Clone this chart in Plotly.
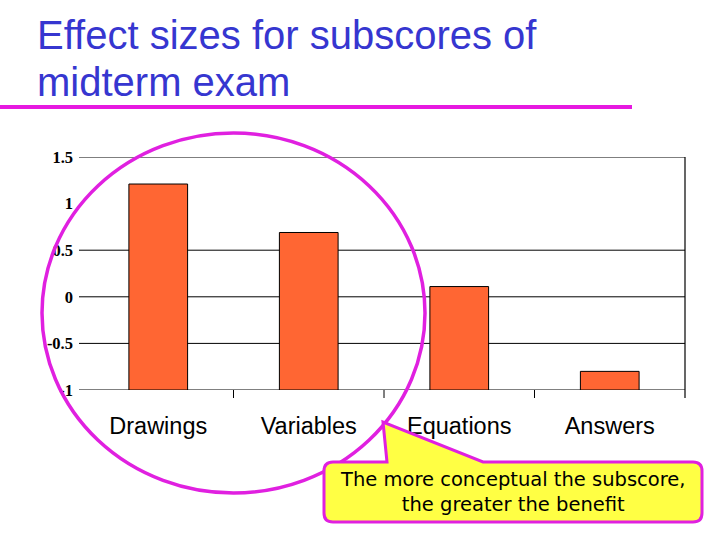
import plotly.graph_objects as go

# ---- data ----
categories = ["Drawings", "Variables", "Equations", "Answers"]
effect_sizes = [1.21, 0.69, 0.11, -0.80]
bar_base = -1.0
y_tick_values = [1.5, 1, 0.5, 0, -0.5, -1]
y_tick_labels = ["1.5", "1", "0.5", "0", "-0.5", "-1"]
gridline_values = [1.5, 0.5, 0, -0.5]
title_lines = ["Effect sizes for subscores of", "midterm exam"]
callout_lines = ["The more conceptual the subscore,", "the greater the benefit"]

W, H = 720, 540
L, R, T, B = 83, 35, 157, 150
PW, PH = W - L - R, H - T - B


def px(x):
    return (x - L) / PW


def py(y):
    return (H - B - y) / PH


fig = go.Figure()
fig.add_trace(go.Bar(
    x=categories,
    y=[v - bar_base for v in effect_sizes],
    base=bar_base,
    marker=dict(color="#ff6633", line=dict(color="black", width=1)),
    hoverinfo="skip",
))

shapes = []
# gridlines
for g in gridline_values + [bar_base]:
    shapes.append(dict(type="line", xref="paper", yref="y", x0=px(79), x1=1, y0=g, y1=g,
                       line=dict(color="black", width=1), layer="below"))
# right border line
shapes.append(dict(type="line", xref="paper", yref="paper", x0=1, x1=1, y0=py(398), y1=1,
                   line=dict(color="black", width=1.2)))
# category boundary ticks
for i in range(1, len(categories)):
    shapes.append(dict(type="line", xref="x", yref="paper", x0=i - 0.5, x1=i - 0.5,
                       y0=py(398), y1=0, line=dict(color="black", width=1)))
# title underline
shapes.append(dict(type="line", xref="paper", yref="paper", x0=px(0), x1=px(632),
                   y0=py(107), y1=py(107), line=dict(color="#e619e0", width=4)))
# circle highlight
shapes.append(dict(type="circle", xref="paper", yref="paper", x0=px(42), x1=px(425),
                   y0=py(493), y1=py(133), line=dict(color="#e020e0", width=3.5)))

# callout path
r = 9
x0c, x1c, y0c, y1c = 324, 702, 462, 522
path = (f"M {px(x0c + r)},{py(y0c)} L {px(387)},{py(y0c)} L {px(383)},{py(422)} "
        f"L {px(483)},{py(y0c)} L {px(x1c - r)},{py(y0c)} "
        f"Q {px(x1c)},{py(y0c)} {px(x1c)},{py(y0c + r)} "
        f"L {px(x1c)},{py(y1c - r)} Q {px(x1c)},{py(y1c)} {px(x1c - r)},{py(y1c)} "
        f"L {px(x0c + r)},{py(y1c)} Q {px(x0c)},{py(y1c)} {px(x0c)},{py(y1c - r)} "
        f"L {px(x0c)},{py(y0c + r)} Q {px(x0c)},{py(y0c)} {px(x0c + r)},{py(y0c)} Z")
shapes.append(dict(type="path", xref="paper", yref="paper", path=path,
                   fillcolor="#ffff44", line=dict(color="#e020e0", width=3)))

annotations = []
for i, line in enumerate(title_lines):
    annotations.append(dict(text=line, xref="paper", yref="paper", x=px(35), y=py(35 + 47 * i),
                            xanchor="left", yanchor="middle", showarrow=False,
                            font=dict(family="Liberation Sans, Arial", size=40, color="#3636d0")))
annotations.append(dict(text="<br>".join(callout_lines), xref="paper", yref="paper",
                        x=px(513), y=py(492), xanchor="center", yanchor="middle",
                        showarrow=False, align="center",
                        font=dict(family="DejaVu Sans, Verdana", size=19.5, color="black")))

fig.update_layout(
    width=W, height=H,
    margin=dict(l=L, r=R, t=T, b=B, pad=0),
    paper_bgcolor="white", plot_bgcolor="white",
    showlegend=False,
    bargap=0.61,
    shapes=shapes,
    annotations=annotations,
    xaxis=dict(type="category", showgrid=False, showline=False,
               ticks="", ticklabelstandoff=19,
               tickfont=dict(family="Liberation Sans, Arial", size=23.5, color="black")),
    yaxis=dict(range=[-1, 1.5], showgrid=False, zeroline=False, showline=False,
               tickvals=y_tick_values, ticktext=y_tick_labels, ticks="",
               ticklabelstandoff=9,
               tickfont=dict(family="Liberation Serif, Times New Roman", size=16.5,
                             color="black", weight="bold")),
)

fig.write_html("out.html", config={"displayModeBar": False},
               post_script="document.body.style.margin='0';")
